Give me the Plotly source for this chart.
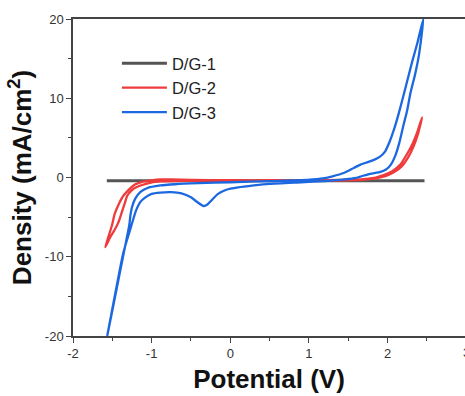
import plotly.graph_objects as go

# ---- data ----
names = ["D/G-1", "D/G-2", "D/G-3"]
colors = ["#555555", "#EF3B3B", "#1C68E0"]

dg1_v = [-1.57, -1.0, 0.0, 1.0, 2.0, 2.47]
dg1_j = [-0.40, -0.40, -0.40, -0.40, -0.40, -0.40]

dg2_v = [2.44, 2.38, 2.32, 2.25, 2.16, 2.06, 1.95, 1.85, 1.70, 1.40, 1.00, 0.50, 0.00,
         -0.50, -0.75, -0.89, -1.00, -1.10, -1.23, -1.36, -1.42, -1.47, -1.505, -1.55, -1.59,
         -1.53, -1.47, -1.42, -1.38, -1.34, -1.31, -1.25, -1.19, -1.06, -0.89, -0.60, 0.00,
         0.50, 1.00, 1.40, 1.65, 1.85, 1.98, 2.08, 2.18, 2.26, 2.33, 2.39, 2.44]
dg2_j = [7.6, 5.8, 4.3, 3.0, 1.6, 0.8, 0.3, 0.0, -0.2, -0.3, -0.35, -0.35, -0.35,
         -0.3, -0.25, -0.25, -0.35, -0.5, -1.0, -2.3, -3.4, -4.6, -6.06, -7.5, -8.8,
         -7.6, -6.6, -5.6, -4.4, -3.2, -2.3, -1.6, -1.2, -0.76, -0.5, -0.42, -0.4,
         -0.4, -0.4, -0.38, -0.3, -0.1, 0.2, 0.65, 1.4, 2.5, 3.9, 5.6, 7.6]

dg3_v = [-1.565, -1.46, -1.36, -1.28, -1.235, -1.21, -1.19, -1.145, -1.08, -1.00, -0.89,
         -0.75, -0.62, -0.50, -0.42, -0.34, -0.29, -0.24, -0.16, -0.05, 0.10, 0.30, 0.50,
         0.90, 1.20, 1.45, 1.60, 1.70, 1.78, 1.91, 1.98, 2.04, 2.10, 2.15, 2.20, 2.25, 2.29,
         2.35, 2.40, 2.455,
         2.38, 2.31, 2.22, 2.14, 2.08, 2.03, 1.97, 1.90, 1.82, 1.75, 1.65, 1.57, 1.45, 1.30,
         1.15, 0.90, 0.50, 0.00, -0.40, -0.70, -0.89, -1.06, -1.145, -1.21, -1.25, -1.27,
         -1.285, -1.35, -1.45, -1.565]
dg3_j = [-20.0, -14.5, -9.5, -6.8, -5.3, -4.5, -3.96, -3.1, -2.5, -2.06, -1.9,
         -1.85, -2.0, -2.5, -3.1, -3.6, -3.4, -2.9, -2.1, -1.55, -1.25, -1.0, -0.8,
         -0.6, -0.45, -0.25, -0.05, 0.25, 0.47, 0.7, 1.0, 1.6, 2.8, 4.4, 6.5, 8.5, 10.6,
         13.0, 15.5, 20.0,
         17.0, 14.5, 11.0, 8.0, 6.0, 4.6, 3.3, 2.6, 2.2, 1.95, 1.6, 1.2, 0.6, 0.15,
         -0.15, -0.35, -0.45, -0.6, -0.72, -0.85, -1.0, -1.35, -1.85, -2.7, -3.75, -4.8,
         -6.06, -9.3, -14.3, -20.0]

x_ticks = [-2, -1, 0, 1, 2]
x_ticktext = ["-2", "-1", "0", "1", "2"]
y_ticks = [-20, -10, 0, 10, 20]
y_ticktext = ["-20", "-10", "0", "10", "20"]

FONT = "Arial, 'Liberation Sans', sans-serif"

fig = go.Figure()
series = [(dg1_v, dg1_j), (dg2_v, dg2_j), (dg3_v, dg3_j)]
widths = [3, 2.3, 2.3]
for (xv, yv), n, c, w in zip(series, names, colors, widths):
    fig.add_trace(go.Scatter(x=xv, y=yv, mode="lines", name=n,
                             line=dict(color=c, width=w, shape="spline", smoothing=0.6)))

fig.update_layout(
    width=465, height=396,
    margin=dict(l=73, r=0, t=19, b=60, autoexpand=False),
    paper_bgcolor="white", plot_bgcolor="white",
    font=dict(family=FONT, color="#222"),
    showlegend=True,
    legend=dict(x=0.112, y=0.915, xanchor="left", yanchor="top",
                font=dict(size=16.5, color="#222", family=FONT),
                bgcolor="rgba(0,0,0,0)", itemwidth=45, tracegroupgap=0),
    xaxis=dict(range=[-2, 2.985], tickvals=x_ticks, ticktext=x_ticktext,
               automargin=False,
               showgrid=False, zeroline=False,
               showline=True, linecolor="#444", linewidth=1.5, mirror=True,
               ticks="outside", ticklen=5, tickwidth=1, tickcolor="#444",
               tickfont=dict(size=13, color="#333"),
               minor=dict(dtick=0.5, ticks="outside", ticklen=3, tickcolor="#444", showgrid=False),
               title=dict(text="<b>Potential (V)</b>", font=dict(size=26, color="#111"), standoff=9)),
    yaxis=dict(range=[-20, 20], tickvals=y_ticks, ticktext=y_ticktext,
               automargin=False,
               showgrid=False, zeroline=False,
               showline=True, linecolor="#444", linewidth=1.5, mirror=False,
               ticks="outside", ticklen=5, tickwidth=1, tickcolor="#444",
               tickfont=dict(size=13, color="#333"),
               minor=dict(dtick=5, ticks="outside", ticklen=3, tickcolor="#444", showgrid=False),
               title=dict(text="<b>Density (mA/cm<sup>2</sup>)</b>", font=dict(size=26, color="#111"), standoff=6)),
)

# partially visible "3" tick label at the cropped right edge
fig.add_annotation(text="3", xref="paper", yref="paper", x=1.003, y=0, yshift=-7,
                   xanchor="center", yanchor="top", showarrow=False,
                   font=dict(size=13, color="#333", family=FONT))

fig.write_html("out.html", config={"displayModeBar": False},
               post_script="document.body.style.margin='0';document.body.style.overflow='hidden';")
